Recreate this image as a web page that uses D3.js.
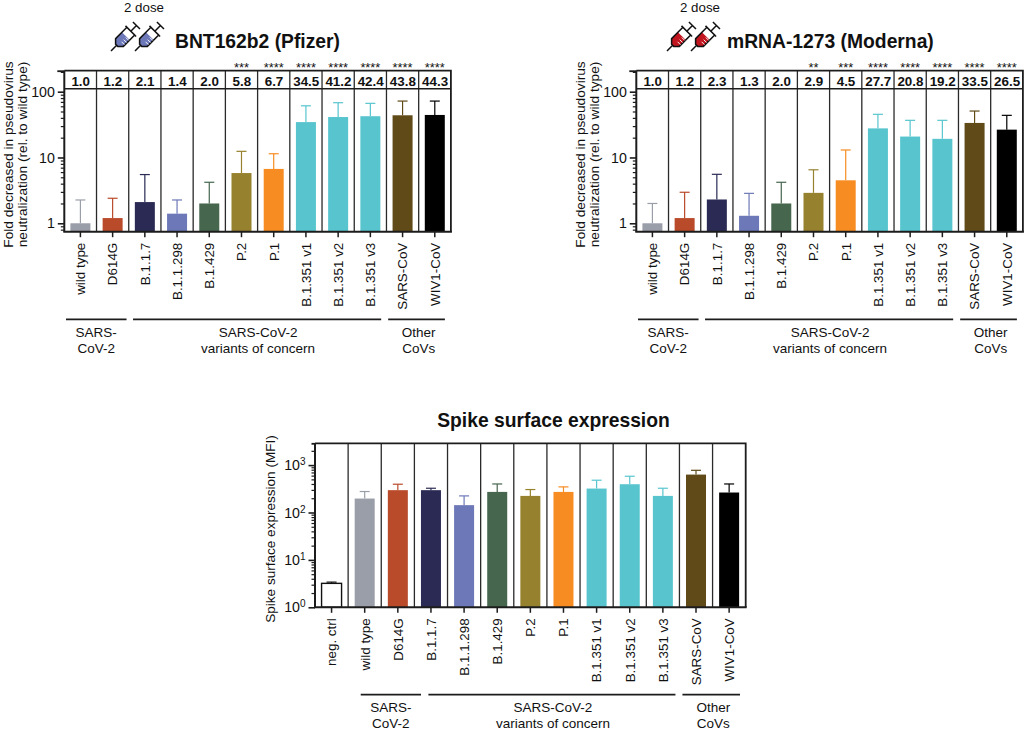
<!DOCTYPE html>
<html><head><meta charset="utf-8">
<script src="https://cdn.jsdelivr.net/npm/d3@7"></script>
<style>
html,body{margin:0;padding:0;background:#fff}
svg{display:block}
text{font-family:"Liberation Sans",Arial,sans-serif;fill:#111}
</style></head><body>
<svg id="c" width="1024" height="732"></svg>
<script>
// ---- data ----
const categoriesNeut = ["wild type","D614G","B.1.1.7","B.1.1.298","B.1.429","P.2","P.1","B.1.351 v1","B.1.351 v2","B.1.351 v3","SARS-CoV","WIV1-CoV"];
const categoriesSpike = ["neg. ctrl"].concat(categoriesNeut);
const pfizerValues = [1.0,1.2,2.1,1.4,2.0,5.8,6.7,34.5,41.2,42.4,43.8,44.3];
const pfizerErrTop = [2.26,2.4,5.5,2.26,4.2,12.4,11.4,61,68,66.5,72,72];
const pfizerStars  = ["","","","","","***","****","****","****","****","****","****"];
const modernaValues = [1.0,1.2,2.3,1.3,2.0,2.9,4.5,27.7,20.8,19.2,33.5,26.5];
const modernaErrTop = [2.0,2.96,5.55,2.85,4.2,6.5,13,45.3,36.7,36.7,50.8,43.7];
const modernaStars  = ["","","","","","**","***","****","****","****","****","****"];
const spikeValues = [3.2,197,296,296,143,272,224,272,320,395,224,631,264];
const spikeErrTop = [3.4,277,395,325,224,400,305,347,480,582,325,777,400];
const groupNames = [["SARS-","CoV-2"],["SARS-CoV-2","variants of concern"],["Other","CoVs"]];

// ---- styles ----
const neutColors = ["#9a9ea8","#b94a2a","#2a2a54","#6d78b8","#46664e","#96822e","#f78c22","#58c5ce","#58c5ce","#58c5ce","#5f4a18","#000000"];
const spikeColors = ["#ffffff"].concat(neutColors);
const ink = "#1c1c1c";
const svg = d3.select("#c");

function minorTicks(lo, hi){
  const out=[];
  for(let e=-2;e<5;e++) for(let m=2;m<10;m++){const v=m*10**e; if(v>=lo&&v<=hi) out.push(v);}
  return out;
}

function syringe(g, x, y, fill){
  const s = g.append("g").attr("transform",`translate(${x},${y}) rotate(-45)`)
    .attr("fill","none").attr("stroke","#111").attr("stroke-width",1.5);
  s.append("path").attr("d","M8,-1.5 L12,-5.5 L21,-5.5 L21,5.5 L12,5.5 L8,1.5 Z").attr("fill",fill).attr("stroke","none");
  s.append("path").attr("d","M0,0 L8,0 M8,-1.5 L12,-5.5 L28,-5.5 L28,5.5 L12,5.5 L8,1.5 Z M28,-7.5 L28,7.5 M28,0 L36,0 M36,-5 L36,5");
  s.append("path").attr("d","M14,1 L14,5 M17,1 L17,5 M20,1 L20,5").attr("stroke","#fff").attr("stroke-width",0.9);
}

function drawFrame(opt){
  const {left,right,top,bottom,cats,vals,errs,colors,yDomain,yMajor,supLabels} = opt;
  const g = svg.append("g");
  const x = d3.scaleBand().domain(d3.range(cats.length)).range([left,right]).padding(0);
  const y = d3.scaleLog().domain(yDomain).range([bottom,top]);
  const bw = x.bandwidth();
  const barW = opt.barW;

  // dividers
  g.selectAll("line.div").data(d3.range(1,cats.length)).join("line")
    .attr("x1",d=>x(d)).attr("x2",d=>x(d)).attr("y1",top).attr("y2",bottom)
    .attr("stroke","#2a2a2a").attr("stroke-width",1.3);

  // error bars
  const eb = g.selectAll("g.err").data(errs).join("g");
  eb.append("line").attr("x1",(d,i)=>x(i)+bw/2).attr("x2",(d,i)=>x(i)+bw/2)
    .attr("y1",(d,i)=>y(vals[i])).attr("y2",d=>y(d))
    .attr("stroke",(d,i)=>i===0&&colors[0]==="#ffffff"?"#111":colors[i]).attr("stroke-width",1.2);
  eb.append("line").attr("x1",(d,i)=>x(i)+bw/2-5).attr("x2",(d,i)=>x(i)+bw/2+5)
    .attr("y1",d=>y(d)).attr("y2",d=>y(d))
    .attr("stroke",(d,i)=>i===0&&colors[0]==="#ffffff"?"#111":colors[i]).attr("stroke-width",1.2);

  // bars
  g.selectAll("rect.bar").data(vals).join("rect")
    .attr("x",(d,i)=>x(i)+(bw-barW)/2).attr("width",barW)
    .attr("y",d=>y(d)).attr("height",d=>bottom-y(d))
    .attr("fill",(d,i)=>colors[i])
    .attr("stroke",(d,i)=>colors[i]==="#ffffff"?"#111":"none").attr("stroke-width",1.4);

  // frame (top and right)
  g.append("path").attr("d",`M${left},${top} H${right} V${bottom}`).attr("fill","none").attr("stroke",ink).attr("stroke-width",1.8);

  // y axis
  const ax = g.append("g").attr("transform",`translate(${left},0)`)
    .call(d3.axisLeft(y).tickValues(yMajor).tickSize(6.5).tickPadding(3).tickFormat(d3.format("d")));
  ax.select(".domain").attr("stroke",ink).attr("stroke-width",2).attr("d",`M0,${top}V${bottom}`);
  ax.selectAll(".tick line").attr("stroke",ink).attr("stroke-width",1.6);
  ax.selectAll(".tick text").style("font-size","14.2px").style("font-family",'"Liberation Sans"').attr("fill","#111");
  if(supLabels){
    ax.selectAll(".tick text").each(function(d){
      const t=d3.select(this); t.text("");
      t.append("tspan").text("10");
      t.append("tspan").text(Math.round(Math.log10(d))).attr("dy","-5").style("font-size","10px");
    });
  }
  const am = g.append("g").attr("transform",`translate(${left},0)`)
    .call(d3.axisLeft(y).tickValues(minorTicks(yDomain[0],yDomain[1]).concat([yDomain[1]])).tickSize(3.5).tickFormat(""));
  am.select(".domain").remove();
  am.selectAll(".tick line").attr("stroke",ink).attr("stroke-width",1.2);
  am.selectAll(".tick line").filter(d=>d===yDomain[1]).attr("x2",opt.topTick).attr("stroke-width",1.8);

  // x axis
  const bx = g.append("g").attr("transform",`translate(0,${bottom})`)
    .call(d3.axisBottom(x).tickSize(5.5).tickFormat(i=>cats[i]));
  bx.select(".domain").attr("stroke",ink).attr("stroke-width",2).attr("d",`M${left-1},0H${right+1}`);
  bx.selectAll(".tick line").attr("stroke",ink).attr("stroke-width",1.5);
  bx.selectAll(".tick text")
    .attr("transform",`rotate(-90)`).attr("text-anchor","end").attr("x",-11).attr("y",0).attr("dy","0.36em")
    .style("font-size","13.4px").style("font-family",'"Liberation Sans"').attr("fill","#111");

  // group brackets
  opt.groups.forEach((gr,k)=>{
    const a=x(gr.from)+gr.a, b=x(gr.to)+bw+gr.b, m=x(gr.from)*0.5+(x(gr.to)+bw)*0.5+gr.t;
    g.append("line").attr("x1",a).attr("x2",b).attr("y1",opt.groupY).attr("y2",opt.groupY).attr("stroke",ink).attr("stroke-width",1.7);
    groupNames[k].forEach((s,j)=>{
      g.append("text").attr("x",m).attr("y",opt.groupY+17.5+j*16).attr("text-anchor","middle").style("font-size","13.5px").text(s);
    });
  });
  return {g,x,y,bw};
}

function neutChart(left, values, errs, stars, title, titleX, doseX, sy1, sy2, fill){
  const right = left+386.6, top=70.7, bottom=231.7, band=88.7;
  const r = drawFrame({left,right,top,bottom,cats:categoriesNeut,vals:values,errs,colors:neutColors,
    yDomain:[10**-0.128,10**2.319],yMajor:[1,10,100],barW:20,groupY:319.3,topTick:-7,
    groups:[{from:0,to:1,a:1.7,b:-2.2,t:-0.3},{from:2,to:9,a:4.3,b:-5.3,t:0.5},{from:10,to:11,a:1.7,b:-6,t:0}]});
  const g=r.g;
  g.append("line").attr("x1",left).attr("x2",right).attr("y1",band).attr("y2",band).attr("stroke",ink).attr("stroke-width",1.5);
  g.selectAll("text.val").data(values).join("text").attr("class","val")
    .attr("x",(d,i)=>r.x(i)+r.bw/2+0.3).attr("y",85.8).attr("text-anchor","middle")
    .style("font-size","13.4px").style("font-weight","bold").text(d=>d.toFixed(1));
  g.selectAll("text.star").data(stars).join("text").attr("class","star")
    .attr("x",(d,i)=>r.x(i)+r.bw/2).attr("y",72).attr("text-anchor","middle")
    .style("font-size","12.8px").text(d=>d);
  [["Fold decreased in pseudovirus",-51.6],["neutralization (rel. to wild type)",-37.6]].forEach(([s,dx])=>{
    g.append("text").attr("transform",`translate(${left+dx},154.5) rotate(-90)`).attr("text-anchor","middle").style("font-size","13.7px").text(s);
  });
  svg.append("text").attr("x",doseX).attr("y",11.5).attr("text-anchor","middle").style("font-size","13.3px").text("2 dose");
  svg.append("text").attr("x",titleX).attr("y",48).style("font-size","19.3px").style("font-weight","bold").text(title);
  syringe(svg,sy1,51,fill); syringe(svg,sy2,51,fill);
}

neutChart(64.3,pfizerValues,pfizerErrTop,pfizerStars,"BNT162b2 (Pfizer)",175,144,111,135,"#6d78b8");
neutChart(636.3,modernaValues,modernaErrTop,modernaStars,"mRNA-1273 (Moderna)",727,700,667,691,"#c1161f");

drawFrame({left:315,right:745.7,top:443.3,bottom:607.3,cats:categoriesSpike,vals:spikeValues,errs:spikeErrTop,colors:spikeColors,
  yDomain:[1,10**3.46],yMajor:[1,10,100,1000],barW:20,groupY:694.7,supLabels:true,topTick:-3.5,
  groups:[{from:1,to:2,a:12.6,b:6.6,t:9.6},{from:3,to:10,a:14,b:-4,t:6},{from:11,to:12,a:3,b:-5.7,t:0.7}]});
svg.append("text").attr("transform","translate(275,529) rotate(-90)").attr("text-anchor","middle").style("font-size","13.55px").text("Spike surface expression (MFI)");
svg.append("text").attr("x",553.5).attr("y",427).attr("text-anchor","middle").style("font-size","19.3px").style("font-weight","bold").text("Spike surface expression");
</script>
</body></html>
